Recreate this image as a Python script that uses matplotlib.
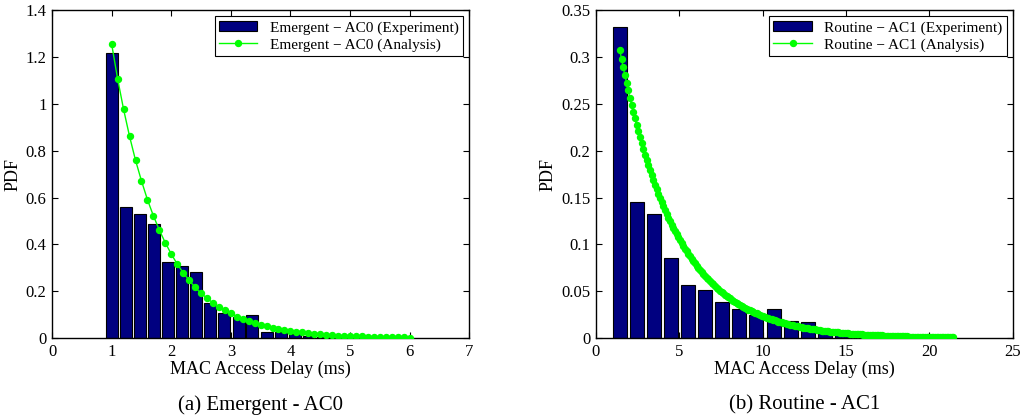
import numpy as np
import matplotlib
matplotlib.use('Agg')
import matplotlib.pyplot as plt
from matplotlib.ticker import FormatStrFormatter

plt.rcParams['font.family'] = ['Liberation Serif', 'DejaVu Serif']

# (a) Emergent - AC0 : histogram bins (experiment) and analytic pdf
ac0_bins = [1.00, 1.24, 1.47, 1.71, 1.94, 2.18, 2.42, 2.65, 2.89, 3.13, 3.36,
            3.60, 3.84, 4.07, 4.31, 4.55, 4.78, 5.02]
ac0_hist = [1.216, 0.560, 0.530, 0.485, 0.326, 0.309, 0.281, 0.149, 0.106,
            0.088, 0.099, 0.026, 0.025, 0.016, 0.007, 0.004, 0.003, 0.002]
ac0_start, ac0_step = 1.0, 0.1
ac0_pdf = [1.254, 1.106, 0.976, 0.861, 0.759, 0.671, 0.591, 0.522, 0.461, 0.407,
           0.359, 0.316, 0.279, 0.247, 0.217, 0.191, 0.170, 0.150, 0.132, 0.118,
           0.105, 0.092, 0.081, 0.072, 0.064, 0.057, 0.050, 0.044, 0.039, 0.035,
           0.031, 0.027, 0.024, 0.021, 0.018, 0.016, 0.014, 0.013, 0.011, 0.010,
           0.009, 0.008, 0.007, 0.006, 0.005, 0.0046, 0.004, 0.0036, 0.0032, 0.0028,
           0.0025]

# (b) Routine - AC1
ac1_bins = [1.42, 2.45, 3.47, 4.50, 5.53, 6.55, 7.58, 8.61, 9.63, 10.66, 11.68,
            12.71, 13.74, 14.76, 15.79, 16.82, 17.84, 18.87, 19.89, 20.92]
ac1_hist = [0.332, 0.145, 0.132, 0.086, 0.057, 0.051, 0.039, 0.031, 0.025, 0.031,
            0.018, 0.017, 0.008, 0.004, 0.002, 0.0015, 0.001, 0.001, 0.0008, 0.0005]
ac1_start, ac1_step = 1.44, 0.1
ac1_pdf = [
    0.3070, 0.2979, 0.2891, 0.2806, 0.2723, 0.2642, 0.2564, 0.2488, 0.2415, 0.2344,
    0.2274, 0.2207, 0.2142, 0.2078, 0.2017, 0.1957, 0.1899, 0.1843, 0.1789, 0.1736,
    0.1685, 0.1635, 0.1587, 0.1540, 0.1494, 0.1450, 0.1407, 0.1366, 0.1325, 0.1286,
    0.1248, 0.1211, 0.1175, 0.1141, 0.1107, 0.1074, 0.1042, 0.1012, 0.0982, 0.0953,
    0.0925, 0.0898, 0.0871, 0.0845, 0.0820, 0.0796, 0.0773, 0.0750, 0.0728, 0.0706,
    0.0685, 0.0665, 0.0645, 0.0626, 0.0608, 0.0590, 0.0572, 0.0555, 0.0539, 0.0523,
    0.0507, 0.0492, 0.0477, 0.0463, 0.0450, 0.0436, 0.0423, 0.0411, 0.0399, 0.0387,
    0.0376, 0.0365, 0.0354, 0.0344, 0.0333, 0.0324, 0.0314, 0.0305, 0.0296, 0.0287,
    0.0279, 0.0271, 0.0263, 0.0255, 0.0247, 0.0240, 0.0233, 0.0226, 0.0219, 0.0213,
    0.0206, 0.0200, 0.0194, 0.0188, 0.0183, 0.0177, 0.0172, 0.0167, 0.0162, 0.0157,
    0.0153, 0.0148, 0.0144, 0.0140, 0.0136, 0.0132, 0.0128, 0.0124, 0.0120, 0.0117,
    0.0113, 0.0110, 0.0107, 0.0103, 0.0100, 0.0097, 0.0095, 0.0092, 0.0089, 0.0086,
    0.0084, 0.0081, 0.0079, 0.0077, 0.0074, 0.0072, 0.0070, 0.0068, 0.0066, 0.0064,
    0.0062, 0.0060, 0.0058, 0.0057, 0.0055, 0.0053, 0.0052, 0.0050, 0.0049, 0.0047,
    0.0046, 0.0045, 0.0043, 0.0042, 0.0041, 0.0040, 0.0038, 0.0037, 0.0036, 0.0035,
    0.0034, 0.0033, 0.0032, 0.0031, 0.0030, 0.0029, 0.0028, 0.0028, 0.0027, 0.0026,
    0.0025, 0.0024, 0.0024, 0.0023, 0.0022, 0.0022, 0.0021, 0.0020, 0.0020, 0.0019,
    0.0019, 0.0018, 0.0018, 0.0017, 0.0017, 0.0016, 0.0016, 0.0015, 0.0015, 0.0014,
    0.0014, 0.0013, 0.0013, 0.0013, 0.0012, 0.0012, 0.0012, 0.0011, 0.0011, 0.0011,
    0.0010, 0.0010, 0.0009, 0.0009, 0.0009, 0.0009, 0.0009, 0.0008, 0.0008, 0.0008,
    0.0008]

panels = [
    dict(bins=ac0_bins, hist=ac0_hist, start=ac0_start, step=ac0_step, pdf=ac0_pdf,
         width=0.2, xlim=(0, 7), xticks=range(0, 8), ylim=(0, 1.4),
         yticks=np.arange(0, 1.41, 0.2),
         name='Emergent \u2212 AC0', caption='(a) Emergent - AC0'),
    dict(bins=ac1_bins, hist=ac1_hist, start=ac1_start, step=ac1_step, pdf=ac1_pdf,
         width=0.84, xlim=(0, 25), xticks=range(0, 26, 5), ylim=(0, 0.35),
         yticks=np.arange(0, 0.351, 0.05),
         name='Routine \u2212 AC1', caption='(b) Routine - AC1'),
]

fig = plt.figure(figsize=(10.22, 4.2), dpi=100)
lefts = [0.051, 0.583]

for p, left in zip(panels, lefts):
    ax = fig.add_axes([left, 0.195, 0.408, 0.781])
    bars = ax.bar(p['bins'], p['hist'], width=p['width'], color='#000080',
                  edgecolor='black', linewidth=0.8, zorder=2)
    x = p['start'] + p['step'] * np.arange(len(p['pdf']))
    line, = ax.plot(x, p['pdf'], '-o', color='#00ff00', lw=1, ms=4.3, zorder=3)
    ax.set_xlim(*p['xlim'])
    ax.set_ylim(*p['ylim'])
    ax.set_xticks(list(p['xticks']))
    ax.set_yticks(p['yticks'])
    ax.yaxis.set_major_formatter(FormatStrFormatter('%g'))
    ax.tick_params(direction='in', top=True, right=True, labelsize=12,
                   length=4, width=0.8, pad=4)
    for s in ax.spines.values():
        s.set_linewidth(1)
    ax.set_xlabel('MAC Access Delay (ms)', fontsize=13, labelpad=1)
    ax.set_ylabel('PDF', fontsize=13, labelpad=3)
    leg = ax.legend([bars, line],
                    [p['name'] + ' (Experiment)', p['name'] + ' (Analysis)'],
                    loc='upper right', fontsize=11, numpoints=1,
                    fancybox=False, framealpha=1, edgecolor='black',
                    handlelength=2.5, borderaxespad=0.4, labelspacing=0.2,
                    borderpad=0.3)
    leg.get_frame().set_linewidth(0.8)
    fig.text(left + 0.204, 0.036, p['caption'], ha='center', va='center',
             fontsize=15)

fig.savefig('out.png', dpi=100)
